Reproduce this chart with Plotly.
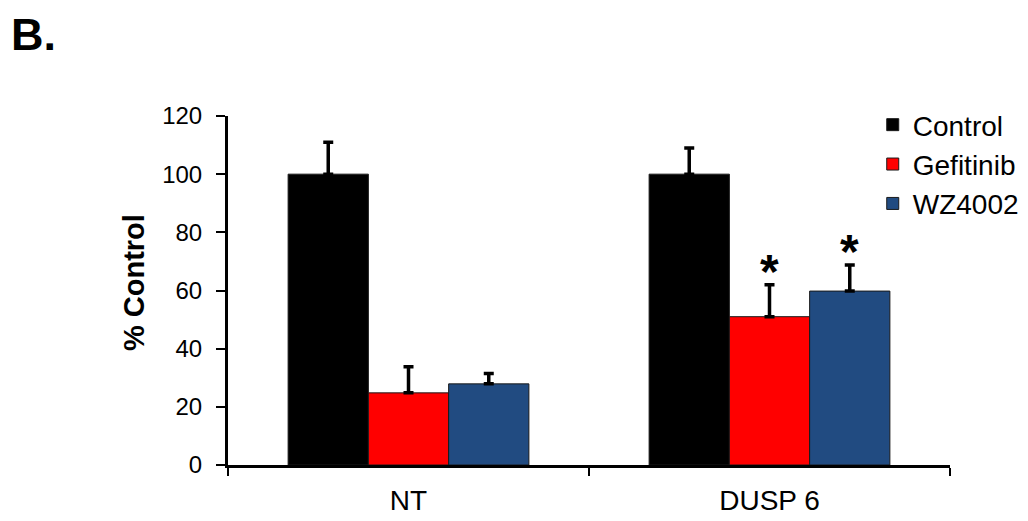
import plotly.graph_objects as go

categories = ["NT", "DUSP 6"]
series_names = ["Control", "Gefitinib", "WZ4002"]
control_vals = [100, 100]
control_err = [11, 9]
gefitinib_vals = [24.8, 51]
gefitinib_err = [9, 11]
wz4002_vals = [27.9, 59.8]
wz4002_err = [3.6, 9]
significant = {"Gefitinib": [False, True], "WZ4002": [False, True]}
y_ticks = [0, 20, 40, 60, 80, 100, 120]

colors = {"Control": "#000000", "Gefitinib": "#ff0000", "WZ4002": "#214b81"}
data = {
    "Control": (control_vals, control_err),
    "Gefitinib": (gefitinib_vals, gefitinib_err),
    "WZ4002": (wz4002_vals, wz4002_err),
}

fig = go.Figure()
for name in series_names:
    vals, errs = data[name]
    fig.add_trace(go.Bar(
        name=name, x=categories, y=vals,
        marker=dict(color=colors[name], line=dict(color="#1a1a1a", width=1)),
        error_y=dict(type="data", array=errs, arrayminus=[0] * len(errs),
                     symmetric=False, color="black", thickness=3.5, width=5),
    ))

bargap = 0.333
bw = (1 - bargap) / 3
offsets = {"Control": -bw, "Gefitinib": 0.0, "WZ4002": bw}
annotations = []
for name, flags in significant.items():
    vals, errs = data[name]
    for i, flag in enumerate(flags):
        if flag:
            annotations.append(dict(
                x=i + offsets[name], y=vals[i] + errs[i], xref="x", yref="y",
                text="<b>*</b>", showarrow=False, yanchor="bottom", yshift=-15,
                font=dict(size=48, family="Liberation Sans", color="black")))

annotations.append(dict(text="<b>B.</b>", x=-0.302, y=1.3095, xref="paper", yref="paper",
                        xanchor="left", yanchor="top", showarrow=False, borderpad=0,
                        font=dict(size=45, family="Liberation Sans", color="black")))
annotations.append(dict(text="<b>% Control</b>", textangle=-90, x=-0.1294, y=0.523,
                        xref="paper", yref="paper", xanchor="center", yanchor="middle",
                        showarrow=False,
                        font=dict(size=29, family="Liberation Sans", color="black")))

fig.update_layout(
    width=1028, height=521,
    margin=dict(l=220, r=70, t=108, b=64),
    paper_bgcolor="white", plot_bgcolor="white",
    barmode="group", bargap=bargap, bargroupgap=0,
    showlegend=True,
    legend=dict(x=0.893, y=1.046, xanchor="left", yanchor="top",
                font=dict(size=28, family="Liberation Sans", color="black"),
                bgcolor="rgba(0,0,0,0)", tracegroupgap=0),
    annotations=annotations,
    font=dict(family="Liberation Sans", color="black"),
)
fig.update_xaxes(
    showline=True, linecolor="black", linewidth=3, ticks="outside", tickson="boundaries",
    ticklen=8, tickwidth=2, tickcolor="black", showgrid=False, zeroline=False,
    tickfont=dict(size=28, family="Liberation Sans", color="black"),
    ticklabelstandoff=8,
)
fig.update_yaxes(
    range=[0, 120], tickvals=y_ticks, showline=True, linecolor="black", linewidth=3,
    ticks="outside", ticklen=9, tickwidth=2, tickcolor="black", showgrid=False,
    zeroline=False, tickfont=dict(size=24, family="Liberation Sans", color="black"),
    ticklabelstandoff=9,
)
fig.write_html("out.html")
